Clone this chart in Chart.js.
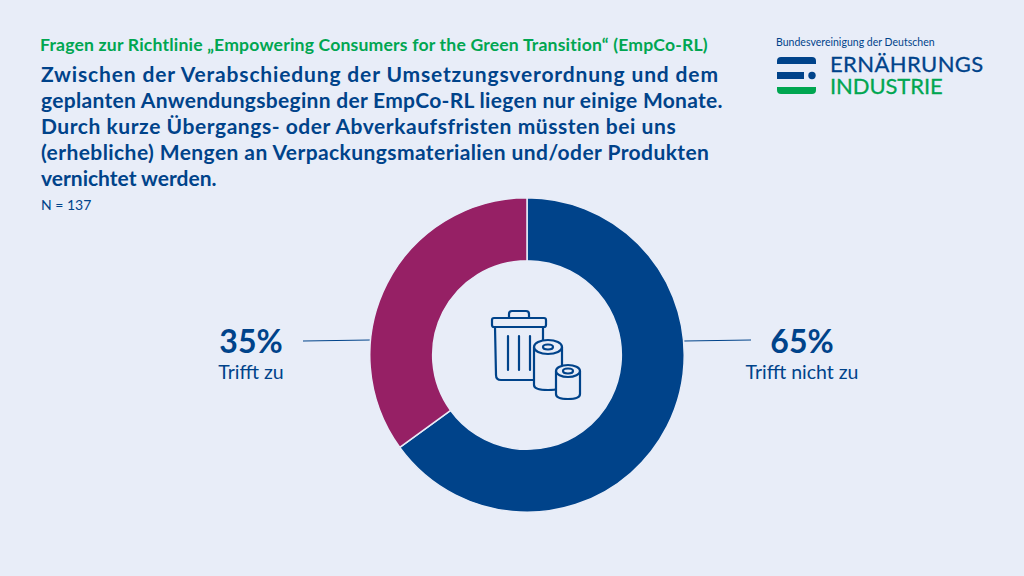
<!DOCTYPE html>
<html lang="de">

<head>
    <meta charset="UTF-8">
    <title>EmpCo-RL Umfrage</title>
    <script src="https://cdn.jsdelivr.net/npm/chart.js"></script>
    <style>
        html, body { margin: 0; padding: 0; }
        body { width: 1024px; height: 576px; background: #e8edf8; overflow: hidden; position: relative; font-family: Lato, sans-serif; color: #00438a; }
        .abs { position: absolute; white-space: nowrap; }
        #kicker { left: 40px; top: 34px; font-size: 17.6px; font-weight: 700; letter-spacing: 0.18px; color: #00a651; }
        #title { left: 41px; top: 61px; font-size: 21px; font-weight: 700; line-height: 26px; }
        #sample { left: 41px; top: 196px; font-size: 14px; font-weight: 400; }
        #chartBox { position: absolute; left: 369px; top: 197px; width: 316px; height: 316px; }
        .pct { font-size: 32px; font-weight: 700; text-align: center; transform: translateX(-50%); }
        .cat { font-size: 19.5px; font-weight: 400; text-align: center; transform: translateX(-50%); }
        svg { position: absolute; left: 0; top: 0; }
        #logoTop { left: 776px; top: 36px; font-size: 10.5px; letter-spacing: 0.02px; }
        #logo1 { left: 830px; top: 53px; font-size: 22px; line-height: 22px; letter-spacing: 0.4px; -webkit-text-stroke: 0.3px #00438a; }
        #logo2 { left: 830px; top: 75px; font-size: 22px; line-height: 22px; letter-spacing: -0.1px; color: #00a651; -webkit-text-stroke: 0.3px #00a651; }
    </style>
</head>

<body>
    <div class="abs" id="kicker">Fragen zur Richtlinie „Empowering Consumers for the Green Transition“ (EmpCo-RL)</div>
    <div class="abs" id="title">
        <div style="letter-spacing:0.85px">Zwischen der Verabschiedung der Umsetzungsverordnung und dem</div>
        <div style="letter-spacing:0.3px">geplanten Anwendungsbeginn der EmpCo-RL liegen nur einige Monate.</div>
        <div style="letter-spacing:0.55px">Durch kurze Übergangs- oder Abverkaufsfristen müssten bei uns</div>
        <div style="letter-spacing:0.42px">(erhebliche) Mengen an Verpackungsmaterialien und/oder Produkten</div>
        <div>vernichtet werden.</div>
    </div>
    <div class="abs" id="sample">N = 137</div>

    <!-- Logo -->
    <div class="abs" id="logoTop">Bundesvereinigung der Deutschen</div>
    <div class="abs" id="logo1">ERNÄHRUNGS</div>
    <div class="abs" id="logo2">INDUSTRIE</div>
    <svg width="1024" height="576">
        <path d="M777 64 V61 Q777 57 781 57 H812 Q816 57 816 61 V64 Z" fill="#00438a"/>
        <rect x="777" y="72" width="27" height="7" fill="#00438a"/>
        <circle cx="812" cy="75.5" r="3.7" fill="#00438a"/>
        <path d="M777 87 V90 Q777 94 781 94 H812 Q816 94 816 90 V87 Z" fill="#00a651"/>
        <!-- traits vers les valeurs -->
        <line x1="303" y1="341" x2="370" y2="340" stroke="#00438a" stroke-width="1"/>
        <line x1="684" y1="341" x2="751" y2="340" stroke="#00438a" stroke-width="1"/>
    </svg>

    <div id="chartBox"><canvas id="donut" width="316" height="316"></canvas></div>

    <!-- Icone poubelle -->
    <svg width="120" height="115" viewBox="0 0 120 115" style="left:470px;top:295px" fill="none" stroke="#00438a" stroke-width="2.2" stroke-linejoin="round" stroke-linecap="round">
        <path d="M39 23 V19 Q39 16 42 16 H56 Q59 16 59 19 V23"/>
        <rect x="22" y="23" width="54" height="9" rx="2"/>
        <path d="M25 32 L26 80 Q26 85 31 85 H66 M73 32 V50"/>
        <path d="M38 41 V75 M49 41 V75 M60 41 V75"/>
        <path d="M64 52 V90 Q64 95 78 95 Q92 95 92 90 V52 Z" fill="#e8edf8"/>
        <ellipse cx="78" cy="52" rx="14" ry="7" fill="#e8edf8"/>
        <ellipse cx="78" cy="52" rx="5" ry="2.5"/>
        <path d="M86 76 V99 Q86 104 98 104 Q110 104 110 99 V76 Z" fill="#e8edf8"/>
        <ellipse cx="98" cy="76" rx="12" ry="6" fill="#e8edf8"/>
        <ellipse cx="98" cy="76" rx="5" ry="2.5"/>
    </svg>

    <div class="abs pct" id="pct0" style="left:802px;top:321px"></div>
    <div class="abs cat" id="cat0" style="left:802px;top:360px"></div>
    <div class="abs pct" id="pct1" style="left:251px;top:321px"></div>
    <div class="abs cat" id="cat1" style="left:251px;top:360px"></div>

    <script>
        // Données
        const categories = ['Trifft nicht zu', 'Trifft zu'];
        const values = [65, 35];
        const sliceColors = ['#00438a', '#962065'];

        categories.forEach(function (cat, i) {
            document.getElementById('pct' + i).textContent = values[i] + '%';
            document.getElementById('cat' + i).textContent = cat;
        });

        new Chart(document.getElementById('donut').getContext('2d'), {
            type: 'doughnut',
            data: {
                labels: categories,
                datasets: [{
                    data: values,
                    backgroundColor: sliceColors,
                    borderColor: '#e8edf8',
                    borderWidth: 1.5
                }]
            },
            options: {
                responsive: false,
                animation: false,
                cutout: '60%',
                plugins: {
                    legend: { display: false },
                    tooltip: { enabled: false }
                }
            }
        });
    </script>
</body>

</html>
